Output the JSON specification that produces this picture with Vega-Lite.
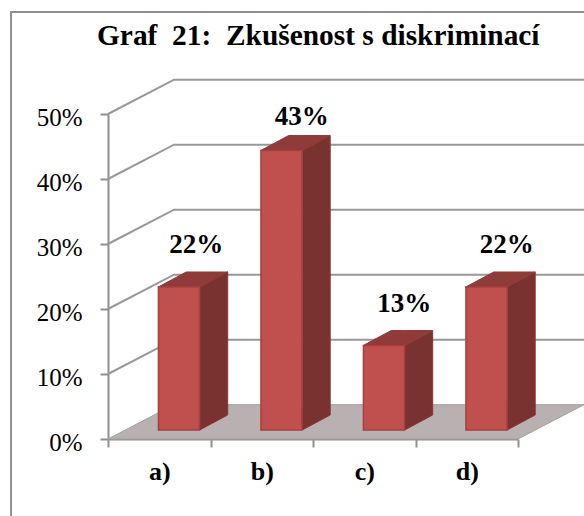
{
"$schema":"https://vega.github.io/schema/vega-lite/v6.json",
"width":410,"height":325,
"autosize":{"type":"none"},
"padding":{"left":108,"top":114,"right":66,"bottom":77},
"background":"white",
"config":{"view":{"stroke":null}},
"title":{"text":"Graf \u00a021: \u00a0Zkušenost s diskriminací","font":"Liberation Serif","fontWeight":"bold","fontSize":29.4,"color":"#000000","anchor":"start","frame":"group","dx":-11,"dy":40,"offset":0},
"datasets":{
"answers":[{"category":"a)","value":22},{"category":"b)","value":43},{"category":"c)","value":13},{"category":"d)","value":22}],
"levels":[{"level":10},{"level":20},{"level":30},{"level":40},{"level":50}]
},
"encoding":{
"x":{"field":"x","type":"quantitative","title":null,"scale":{"domain":[0,4],"nice":false,"zero":false,"padding":0},
"axis":{"values":[0,0.5,1,1.5,2,2.5,3,3.5,4],"grid":false,"domainColor":"#909090","domainWidth":2,"tickColor":"#909090","tickWidth":2,"tickSize":8,
"tickOpacity":{"condition":{"test":"datum.value % 1 !== 0","value":0},"value":1},
"labelExpr":"datum.value % 1 !== 0 ? ['a)','b)','c)','d)'][floor(datum.value)] : ''","labelFont":"Liberation Serif","labelFontWeight":"bold","labelFontSize":26,"labelColor":"#000000","labelPadding":11,"labelAngle":0,"labelOverlap":false,"labelFlush":false}},
"y":{"field":"y","type":"quantitative","title":null,"stack":null,"scale":{"domain":[0,50],"nice":false},
"axis":{"values":[0,10,20,30,40,50],"grid":false,"domainColor":"#909090","domainWidth":2,"tickColor":"#909090","tickWidth":2,"tickSize":8,
"labelExpr":"datum.value + '%'","labelFont":"Liberation Serif","labelFontSize":25,"labelColor":"#000000","labelPadding":18,"labelOffset":3}}
},
"layer":[
{"data":{"values":[{"part":"frame"}]},
"transform":[{"calculate":"-0.946","as":"x"},{"calculate":"6","as":"x_end"},{"calculate":"65.7","as":"y"},{"calculate":"-20","as":"y_end"}],
"mark":{"type":"rect","fill":null,"stroke":"#8f8f8f","strokeWidth":2},
"encoding":{"x2":{"field":"x_end"},"y2":{"field":"y_end"}}},
{"data":{"values":[{"part":"floor"}]},
"transform":[{"calculate":"[0,1,2,3]","as":"edge"},{"flatten":["edge"]},
{"calculate":"[0,0.644,4,4.644][datum.edge]","as":"x"},
{"calculate":"[0,5.28,5.28,5.28][datum.edge]","as":"y"},
{"calculate":"[0,0,0,5.28][datum.edge]","as":"y_low"}],
"mark":{"type":"area","orient":"vertical","fill":"#b9b1b1","stroke":"#a3a0a0","strokeWidth":1},
"encoding":{"y2":{"field":"y_low"}}},
{"data":{"name":"levels"},
"transform":[{"calculate":"[0,1,2]","as":"edge"},{"flatten":["edge"]},
{"calculate":"[0,0.644,4.644][datum.edge]","as":"x"},
{"calculate":"datum.level + [0,5.28,5.28][datum.edge]","as":"y"}],
"mark":{"type":"line","stroke":"#989898","strokeWidth":2},
"encoding":{"detail":{"field":"level","type":"nominal"}}},
{"data":{"name":"answers"},
"transform":[{"calculate":"indexof(['a)','b)','c)','d)'],datum.category)+0.5","as":"pos"},
{"calculate":"[0,1]","as":"edge"},{"flatten":["edge"]},
{"calculate":"datum.pos + 0.3946 + datum.edge*0.2732","as":"x"},
{"calculate":"datum.value + 1.385 + datum.edge*2.308","as":"y"},
{"calculate":"1.385 + datum.edge*2.308","as":"y_low"}],
"mark":{"type":"area","orient":"vertical","fill":"#7a3230","stroke":"#8a3533","strokeWidth":1},
"encoding":{"y2":{"field":"y_low"},"detail":{"field":"category","type":"nominal"}}},
{"data":{"name":"answers"},
"transform":[{"calculate":"indexof(['a)','b)','c)','d)'],datum.category)+0.5","as":"pos"},
{"calculate":"[0,1,2,3]","as":"edge"},{"flatten":["edge"]},
{"calculate":"datum.pos - 0.0102 + [0,0.2732,0.4048,0.678][datum.edge]","as":"x"},
{"calculate":"datum.value + 1.385 + [0,2.308,2.308,2.308][datum.edge]","as":"y"},
{"calculate":"datum.value + 1.385 + [0,0,0,2.308][datum.edge]","as":"y_low"}],
"mark":{"type":"area","orient":"vertical","fill":"#8e3b39","stroke":"#8e3b39","strokeWidth":1},
"encoding":{"y2":{"field":"y_low"},"detail":{"field":"category","type":"nominal"}}},
{"data":{"name":"answers"},
"transform":[{"calculate":"indexof(['a)','b)','c)','d)'],datum.category)+0.5","as":"x"},{"calculate":"datum.value + 1.385","as":"y"},{"calculate":"1.385","as":"y_low"}],
"mark":{"type":"bar","width":41,"xOffset":19.7,"fill":"#c0504d","stroke":"#a5403d","strokeWidth":1.5},
"encoding":{"y2":{"field":"y_low"}}},
{"data":{"name":"answers"},
"transform":[{"calculate":"indexof(['a)','b)','c)','d)'],datum.category)+0.5 + (datum.category == 'a)' ? 0.361 : 0.39)","as":"x"},
{"calculate":"datum.value + (datum.category == 'b)' ? 5.3 : 6.6)","as":"y"},
{"calculate":"datum.value + '%'","as":"label"}],
"mark":{"type":"text","font":"Liberation Serif","fontWeight":"bold","fontSize":27,"color":"#000000","align":"center","baseline":"alphabetic"},
"encoding":{"text":{"field":"label","type":"nominal"}}}
]
}
